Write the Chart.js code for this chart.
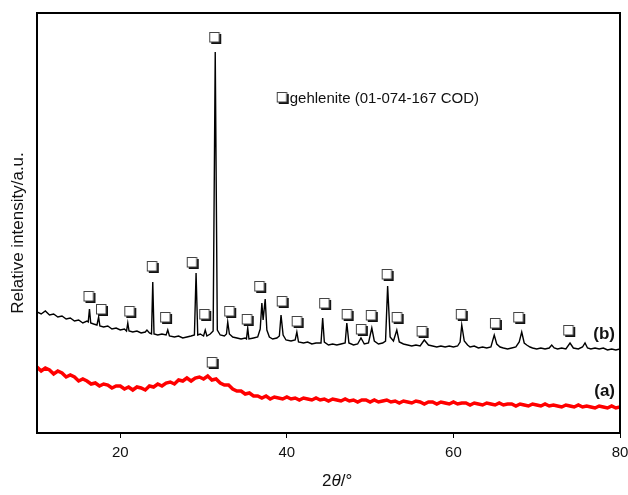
<!DOCTYPE html>
<html>
<head>
<meta charset="utf-8">
<script src="https://cdn.jsdelivr.net/npm/chart.js@4.4.1/dist/chart.umd.min.js"></script>
<style>
	html, body { margin: 0; padding: 0; background: #fff; }
</style>
</head>
<body>
<canvas id="xrdChart" width="628" height="495"></canvas>
<script>

// x axis ticks (2theta, degrees)
var thetaTicks = [20, 40, 60, 80];

// sample (b): crystallised, 2theta and intensity (a.u.)
var sampleBTheta = [10.0, 10.5, 11.0, 11.5, 12.0, 12.5, 13.0, 13.5, 14.0, 14.5, 15.0, 15.5, 16.0, 16.15, 16.3, 16.45, 16.8, 17.2, 17.4, 17.55,
	18.0, 18.5, 19.0, 19.5, 20.0, 20.5, 20.75, 20.9, 21.05, 21.5, 22.0, 22.5, 23.0, 23.2, 23.5, 23.75, 23.9, 24.05, 24.5, 25.0,
	25.5, 25.7, 25.9, 26.5, 27.0, 27.5, 28.0, 28.5, 28.9, 29.1, 29.3, 29.6, 30.0, 30.2, 30.4, 30.8, 31.15, 31.4, 31.65, 32.0,
	32.5, 32.75, 32.9, 33.1, 33.5, 34.0, 34.5, 35.0, 35.15, 35.3, 35.45, 36.0, 36.5, 36.8, 37.0, 37.15, 37.4, 37.6, 37.9, 38.3,
	38.8, 39.1, 39.3, 39.55, 39.9, 40.5, 41.0, 41.2, 41.4, 42.0, 42.5, 43.0, 43.5, 44.1, 44.3, 44.5, 45.0, 45.5, 46.0, 46.5,
	47.0, 47.2, 47.45, 48.0, 48.5, 48.9, 49.3, 49.8, 50.2, 50.5, 51.0, 51.5, 51.85, 52.1, 52.4, 52.8, 53.2, 53.5, 54.0, 54.5,
	55.0, 55.5, 56.0, 56.5, 57.0, 57.5, 58.0, 58.5, 59.0, 59.5, 60.0, 60.5, 60.8, 61.0, 61.3, 61.7, 62.0, 62.5, 63.0, 63.5,
	64.0, 64.5, 64.9, 65.2, 65.6, 66.0, 66.5, 67.0, 67.5, 67.9, 68.2, 68.5, 68.8, 69.2, 69.5, 70.0, 70.5, 71.0, 71.5, 71.8,
	72.1, 72.5, 73.0, 73.5, 74.0, 74.4, 75.0, 75.5, 75.8, 76.1, 76.5, 77.0, 77.5, 78.0, 78.5, 79.0, 79.5, 80.0];
var sampleBCounts = [121, 119, 122, 118, 119, 116, 117, 114, 115, 112, 113, 110, 112, 111, 124, 110, 109, 108, 116, 107,
	106, 107, 104, 105, 103, 104, 102, 110, 102, 101, 102, 100, 101, 103, 100, 99, 151, 99, 98, 99,
	98, 103, 97, 96, 97, 95, 96, 97, 98, 160, 98, 99, 97, 103, 97, 99, 102, 381, 103, 98,
	97, 99, 111, 99, 96, 95, 94, 95, 94, 105, 94, 95, 96, 104, 130, 113, 134, 103, 96, 94,
	95, 97, 118, 98, 93, 92, 93, 101, 91, 90, 91, 89, 90, 90, 115, 91, 88, 89, 88, 89,
	90, 110, 90, 88, 89, 95, 89, 90, 105, 92, 89, 90, 92, 147, 96, 92, 103, 91, 89, 88,
	87, 88, 87, 93, 88, 87, 86, 87, 86, 87, 86, 87, 91, 108, 92, 88, 86, 87, 85, 86,
	85, 86, 98, 89, 86, 85, 84, 85, 86, 91, 101, 90, 88, 86, 85, 84, 85, 84, 85, 88,
	85, 84, 85, 84, 90, 85, 84, 86, 90, 85, 84, 85, 84, 85, 83, 84, 83, 84];

// sample (a): amorphous, one reading every 0.5 degree from 10 to 80
var sampleAStart = 10;
var sampleAStep = 0.5;
var sampleACounts = [66, 62, 65, 63, 59, 62, 60, 56, 58, 56, 52, 54, 52, 49, 50, 47, 49, 48, 45, 47,
	47, 44, 46, 43, 46, 45, 43, 47, 46, 49, 47, 50, 51, 49, 53, 52, 55, 52, 55, 56,
	54, 57, 53, 54, 50, 48, 48, 44, 42, 42, 39, 40, 37, 37, 35, 37, 34, 36, 35, 34,
	36, 34, 35, 33, 35, 34, 33, 35, 33, 34, 32, 34, 33, 32, 34, 32, 33, 31, 33, 33,
	31, 33, 31, 32, 33, 31, 32, 30, 32, 31, 30, 32, 31, 29, 31, 31, 29, 31, 30, 29,
	31, 29, 30, 30, 28, 30, 29, 28, 30, 29, 28, 30, 28, 29, 29, 27, 29, 28, 27, 29,
	28, 27, 29, 27, 28, 27, 26, 28, 27, 26, 28, 26, 27, 26, 25, 27, 26, 25, 27, 25, 26];

// gehlenite markers (open squares above the reflections)
var gehleniteTheta = [16.3, 17.8, 21.2, 23.9, 25.5, 28.7, 30.2, 31.4, 33.2, 35.3, 36.8, 39.5, 41.3, 44.6, 47.3, 49.0, 50.2, 52.1, 53.3, 56.3, 61.0, 65.1, 67.9, 73.9, 31.1];
var gehleniteLevel = [136, 123, 121, 166, 115, 170, 118, 395, 121, 113, 146, 131, 111, 129, 118, 103, 117, 158, 115, 101, 118, 109, 115, 102, 70];

// key entry
var keyTheta = [39.5];
var keyLevel = [335];
var keyText = 'gehlenite (01-074-167 COD)';


function toPoints(xs, ys) {
	var pts = [];
	for (var i = 0; i < ys.length; i++) {
		pts.push({ x: xs[i], y: ys[i] });
	}
	return pts;
}

var sampleATheta = [];
for (var i = 0; i < sampleACounts.length; i++) {
	sampleATheta.push(sampleAStart + i * sampleAStep);
}

// open square with a dark drop shadow
var box = document.createElement('canvas');
box.width = 14;
box.height = 14;
var bctx = box.getContext('2d');
bctx.fillStyle = '#111';
bctx.fillRect(3, 3, 10, 10);
bctx.fillStyle = '#fff';
bctx.fillRect(1.5, 1.5, 9.5, 9.5);
bctx.strokeStyle = '#444';
bctx.lineWidth = 1;
bctx.strokeRect(1.5, 1.5, 9.5, 9.5);

var extras = {
	id: 'extras',
	afterDraw: function(chart) {
		var ctx = chart.ctx;
		var area = chart.chartArea;
		var xs = chart.scales.x;
		var ys = chart.scales.y;
		ctx.save();

		// frame
		ctx.strokeStyle = '#000';
		ctx.lineWidth = 2;
		ctx.strokeRect(area.left, area.top, area.right - area.left, area.bottom - area.top);

		// key text
		ctx.fillStyle = '#111';
		ctx.font = '15px "Liberation Sans", Arial, sans-serif';
		ctx.textBaseline = 'middle';
		ctx.textAlign = 'left';
		ctx.fillText(keyText, xs.getPixelForValue(keyTheta[0]) + 7, ys.getPixelForValue(keyLevel[0]) + 1);

		// curve labels
		ctx.font = 'bold 17px "Liberation Sans", Arial, sans-serif';
		ctx.textAlign = 'right';
		ctx.fillText('(b)', area.right - 5, 334);
		ctx.fillText('(a)', area.right - 5, 391);

		// y title
		ctx.font = '17px "Liberation Sans", Arial, sans-serif';
		ctx.textAlign = 'center';
		ctx.translate(18, 233);
		ctx.rotate(-Math.PI / 2);
		ctx.fillText('Relative intensity/a.u.', 0, 0);
		ctx.restore();

		// x title: 2θ/° with italic theta
		ctx.save();
		ctx.fillStyle = '#111';
		ctx.textBaseline = 'middle';
		ctx.textAlign = 'left';
		var parts = [['2', ''], ['θ', 'italic '], ['/°', '']];
		var x = 322;
		for (var p = 0; p < parts.length; p++) {
			ctx.font = parts[p][1] + '17px "Liberation Sans", Arial, sans-serif';
			ctx.fillText(parts[p][0], x, 481);
			x += ctx.measureText(parts[p][0]).width;
		}
		ctx.restore();
	}
};

var ctx = document.getElementById('xrdChart');

var xrdChart = new Chart(ctx, {
	type: 'scatter',
	data: {
		datasets: [{
			label: 'gehlenite',
			data: toPoints(gehleniteTheta, gehleniteLevel),
			pointStyle: box,
			showLine: false
		}, {
			label: 'key',
			data: toPoints(keyTheta, keyLevel),
			pointStyle: box,
			showLine: false
		}, {
			label: '(b)',
			data: toPoints(sampleBTheta, sampleBCounts),
			showLine: true,
			borderColor: '#000',
			borderWidth: 1.4,
			pointRadius: 0,
			tension: 0
		}, {
			label: '(a)',
			data: toPoints(sampleATheta, sampleACounts),
			showLine: true,
			borderColor: '#ff0000',
			borderWidth: 3.5,
			pointRadius: 0,
			tension: 0
		}]
	},
	options: {
		responsive: false,
		animation: false,
		devicePixelRatio: 1,
		layout: {
			padding: { top: 13, right: 8, left: 0, bottom: 0 }
		},
		plugins: {
			legend: { display: false },
			tooltip: { enabled: false }
		},
		scales: {
			x: {
				type: 'linear',
				min: 10,
				max: 80,
				afterBuildTicks: function(scale) {
					scale.ticks = thetaTicks.map(function(v) { return { value: v }; });
				},
				afterFit: function(scale) {
					scale.height = 62;
					scale.paddingLeft = 0;
					scale.paddingRight = 0;
				},
				grid: {
					display: true,
					drawOnChartArea: false,
					drawTicks: true,
					tickLength: 5,
					color: '#000'
				},
				border: { color: '#000', width: 2 },
				ticks: {
					color: '#111',
					padding: 6,
					maxRotation: 0,
					font: { size: 15, family: '"Liberation Sans", Arial, sans-serif' }
				}
			},
			y: {
				type: 'linear',
				min: 0,
				max: 420,
				afterFit: function(scale) {
					scale.width = 37;
				},
				grid: { display: false },
				border: { color: '#000', width: 2 },
				ticks: { display: false }
			}
		}
	},
	plugins: [extras]
});

</script>
</body>
</html>
